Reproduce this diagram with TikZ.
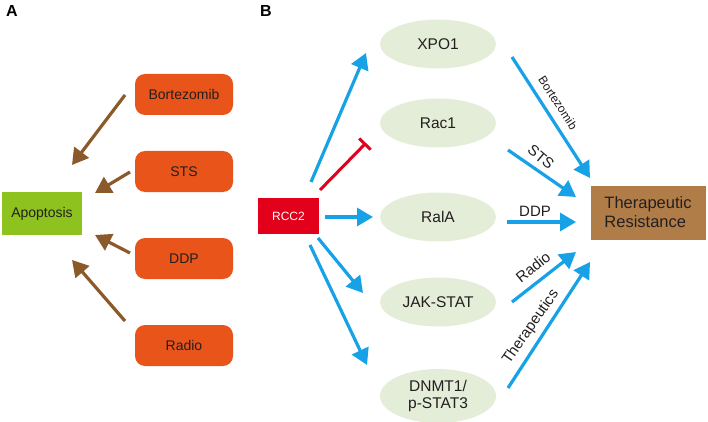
\documentclass[tikz,border=0pt]{standalone}
\usepackage{fontspec}
\setmainfont{Liberation Sans}
\usetikzlibrary{arrows.meta,shapes.geometric}
\definecolor{DrugOrange}{RGB}{232,84,26}
\definecolor{ApoGreen}{RGB}{141,194,31}
\definecolor{PathGreen}{RGB}{228,237,216}
\definecolor{ArrowBlue}{RGB}{23,161,230}
\definecolor{ArrowBrown}{RGB}{139,90,43}
\definecolor{RccRed}{RGB}{227,0,27}
\definecolor{ResBrown}{RGB}{176,125,72}
\definecolor{TextDark}{RGB}{35,31,32}

\tikzset{
  drug/.style={fill=DrugOrange, rounded corners=10pt, minimum width=98pt, minimum height=41pt,
    text=TextDark, font=\fontsize{14}{16}\selectfont},
  pathway/.style={ellipse, fill=PathGreen, minimum width=116pt, minimum height=49pt,
    text=TextDark, font=\fontsize{15.5}{17}\selectfont, align=center, inner sep=0pt},
  brownarrow/.style={draw=ArrowBrown, line width=3.2pt, -{Triangle[length=16pt,width=18pt]}},
  bluearrow/.style={draw=ArrowBlue, line width=3.2pt, -{Triangle[length=16pt,width=18pt]}},
  arrowlabel/.style={text=TextDark, font=\fontsize{15}{17}\selectfont, inner sep=0pt}
}

\begin{document}
\begin{tikzpicture}[x=1pt,y=1pt,yscale=-1,xscale=1]
		\useasboundingbox (0,0) rectangle (708,422);

		% Panel letters
		\node (labA) [font=\fontsize{16}{18}\selectfont\bfseries] at (12,11) {A};
		\node (labB) [font=\fontsize{16}{18}\selectfont\bfseries] at (266,11) {B};

		% Panel A: apoptosis and the four drugs
		\node (apop) [fill=ApoGreen, minimum width=80pt, minimum height=43pt, text=TextDark,
			font=\fontsize{14}{16}\selectfont] at (42,213.5) {Apoptosis};
		\node (bort) [drug] at (184,94.5) {Bortezomib};
		\node (sts) [drug] at (184,171.5) {STS};
		\node (ddp) [drug] at (184,258.5) {DDP};
		\node (radio) [drug] at (184,345.5) {Radio};

		% Arrow ends in panel A
		\coordinate (bortS) at (125,95);  \coordinate (bortE) at (72,165);
		\coordinate (stsS) at (130,172);  \coordinate (stsE) at (95,193);
		\coordinate (ddpS) at (130,253);  \coordinate (ddpE) at (95,235);
		\coordinate (radS) at (125,321);  \coordinate (radE) at (72,260);
		\draw[brownarrow] (bortS) -- (bortE);
		\draw[brownarrow] (stsS) -- (stsE);
		\draw[brownarrow] (ddpS) -- (ddpE);
		\draw[brownarrow] (radS) -- (radE);

		% Panel B: RCC2 and its targets
		\node (rcc) [fill=RccRed, minimum width=61pt, minimum height=36pt, text=white,
			font=\fontsize{12}{14}\selectfont] at (288.5,216) {RCC2};
		\node (xpo) [pathway] at (438,44) {XPO1};
		\node (rac) [pathway] at (438,123) {Rac1};
		\node (ral) [pathway] at (438,217) {RalA};
		\node (jak) [pathway] at (438,302) {JAK-STAT};
		\node (dnmt) [pathway, minimum height=54pt] at (438,396) {DNMT1/\\p-STAT3};
		\node (res) [fill=ResBrown, minimum width=115pt, minimum height=54pt, text=TextDark,
			align=left, font=\fontsize{16.5}{19}\selectfont] at (648,212.5) {Therapeutic\\Resistance};

		% RCC2 to the targets
		\coordinate (rXs) at (311,182); \coordinate (rXe) at (366,53);
		\coordinate (rRs) at (320,190); \coordinate (rRe) at (366,143);
		\coordinate (rLs) at (325,217); \coordinate (rLe) at (373,217);
		\coordinate (rJs) at (318,238); \coordinate (rJe) at (363,293);
		\coordinate (rDs) at (310,245); \coordinate (rDe) at (367,365);
		\draw[bluearrow] (rXs) -- (rXe);
		\draw[draw=RccRed, line width=3pt, -{Bar[width=16pt,line width=3pt]}] (rRs) -- (rRe);
		\draw[bluearrow] (rLs) -- (rLe);
		\draw[bluearrow] (rJs) -- (rJe);
		\draw[bluearrow] (rDs) -- (rDe);

		% Targets to therapeutic resistance
		\coordinate (tBs) at (512,57);  \coordinate (tBe) at (590,178);
		\coordinate (tSs) at (508,150); \coordinate (tSe) at (576,197);
		\coordinate (tDs) at (507,222); \coordinate (tDe) at (576,222);
		\coordinate (tRs) at (512,302); \coordinate (tRe) at (576,252);
		\coordinate (tTs) at (508,388); \coordinate (tTe) at (590,262);
		\draw[bluearrow] (tBs) -- (tBe);
		\draw[bluearrow] (tSs) -- (tSe);
		\draw[bluearrow] (tDs) -- (tDe);
		\draw[bluearrow] (tRs) -- (tRe);
		\draw[bluearrow] (tTs) -- (tTe);

		% Labels along the arrows
		\node (lbort) [arrowlabel, rotate=-57, font=\fontsize{12}{14}\selectfont] at (558,103) {Bortezomib};
		\node (lsts) [arrowlabel, rotate=-40] at (541,157) {STS};
		\node (lddp) [arrowlabel] at (535,211) {DDP};
		\node (lrad) [arrowlabel, rotate=39] at (533,267) {Radio};
		\node (lther) [arrowlabel, rotate=55] at (531,327) {Therapeutics};
	\end{tikzpicture}
\end{document}
